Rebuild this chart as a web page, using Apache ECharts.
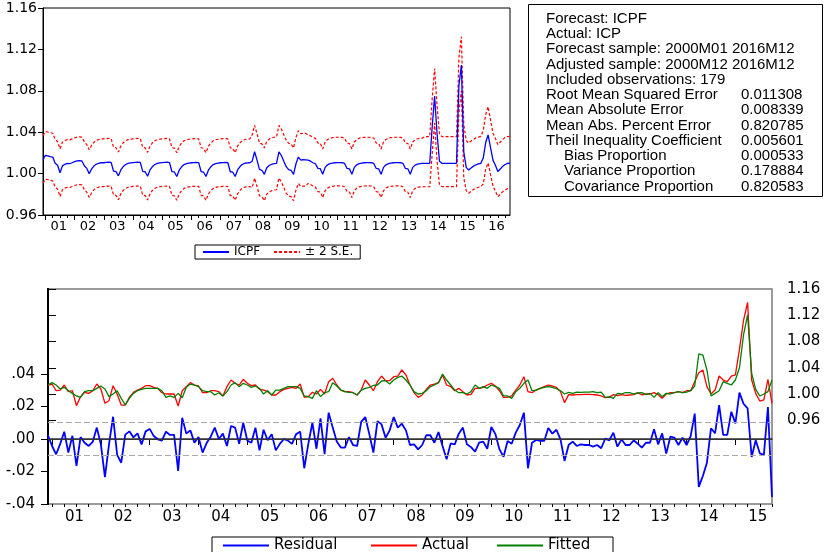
<!DOCTYPE html>
<html><head><meta charset="utf-8">
<script src="https://cdn.jsdelivr.net/npm/echarts@6.0.0/dist/echarts.min.js"></script>
<style>html,body{margin:0;padding:0;background:#fff}#c{width:829px;height:552px}</style>
</head><body><div id="c"></div><script>
// ---------- Top panel: forecast ICPF (2000M12 .. 2016M12) ----------
const icpf = [1.0137,1.0176,1.0172,1.0165,1.0160,1.0100,1.0080,1.0008,1.0075,1.0090,1.0098,1.0096,1.0105,
1.0115,1.0122,1.0124,1.0122,1.0076,1.0050,1.0000,1.0045,1.0075,1.0092,1.0100,1.0105,
1.0105,1.0108,1.0110,1.0108,1.0025,1.0020,0.9978,1.0035,1.0068,1.0088,1.0098,1.0103,
1.0106,1.0108,1.0110,1.0108,1.0022,1.0018,0.9975,1.0035,1.0068,1.0088,1.0098,1.0103,
1.0106,1.0108,1.0110,1.0107,1.0020,1.0016,0.9972,1.0033,1.0066,1.0087,1.0097,1.0102,
1.0105,1.0107,1.0108,1.0106,1.0020,1.0015,0.9972,1.0033,1.0066,1.0087,1.0097,1.0102,
1.0105,1.0107,1.0108,1.0105,1.0018,1.0015,0.9972,1.0035,1.0068,1.0090,1.0100,1.0103,
1.0105,1.0120,1.0211,1.0130,1.0040,1.0032,0.9993,1.0057,1.0078,1.0090,1.0096,1.0099,
1.0211,1.0175,1.0120,1.0067,1.0038,1.0032,0.9993,1.0095,1.0160,1.0130,1.0135,1.0133,
1.0130,1.0120,1.0105,1.0095,1.0051,1.0048,0.9993,1.0060,1.0085,1.0097,1.0102,1.0105,
1.0106,1.0106,1.0105,1.0098,1.0050,1.0046,0.9993,1.0060,1.0085,1.0097,1.0102,1.0105,
1.0106,1.0106,1.0105,1.0098,1.0050,1.0046,0.9993,1.0060,1.0085,1.0097,1.0102,1.0105,
1.0106,1.0106,1.0105,1.0098,1.0050,1.0046,0.9993,1.0060,1.0082,1.0092,1.0096,1.0098,
1.0098,1.0098,1.0098,1.0450,1.0749,1.0390,1.0120,1.0099,1.0099,1.0099,1.0099,1.0099,
1.0099,1.0099,1.0850,1.1049,1.0210,1.0060,1.0035,1.0055,1.0072,1.0085,1.0093,1.0099,
1.0150,1.0300,1.0373,1.0250,1.0130,1.0080,1.0020,1.0045,1.0070,1.0088,1.0098,1.0100];

const icpfUpper = [1.0367,1.0406,1.0402,1.0395,1.0390,1.0330,1.0310,1.0238,1.0305,1.0320,1.0328,1.0326,1.0335,
1.0345,1.0352,1.0354,1.0352,1.0306,1.0280,1.0230,1.0275,1.0305,1.0322,1.0330,1.0335,
1.0335,1.0338,1.0340,1.0338,1.0255,1.0250,1.0208,1.0265,1.0298,1.0318,1.0328,1.0333,
1.0336,1.0338,1.0340,1.0338,1.0252,1.0248,1.0205,1.0265,1.0298,1.0318,1.0328,1.0333,
1.0336,1.0338,1.0340,1.0337,1.0250,1.0246,1.0202,1.0263,1.0296,1.0317,1.0327,1.0332,
1.0335,1.0337,1.0338,1.0336,1.0250,1.0245,1.0202,1.0263,1.0296,1.0317,1.0327,1.0332,
1.0335,1.0337,1.0338,1.0335,1.0248,1.0245,1.0202,1.0265,1.0298,1.0320,1.0330,1.0333,
1.0335,1.0375,1.0466,1.0385,1.0295,1.0287,1.0248,1.0312,1.0333,1.0345,1.0351,1.0354,
1.0466,1.0430,1.0375,1.0322,1.0293,1.0287,1.0248,1.0350,1.0415,1.0385,1.0390,1.0388,
1.0375,1.0365,1.0350,1.0340,1.0296,1.0293,1.0238,1.0305,1.0330,1.0342,1.0347,1.0350,
1.0351,1.0351,1.0350,1.0343,1.0295,1.0291,1.0238,1.0305,1.0330,1.0342,1.0347,1.0350,
1.0351,1.0351,1.0350,1.0343,1.0295,1.0291,1.0238,1.0305,1.0330,1.0342,1.0347,1.0350,
1.0351,1.0351,1.0350,1.0343,1.0295,1.0291,1.0238,1.0305,1.0327,1.0337,1.0341,1.0343,
1.0358,1.0358,1.0358,1.0720,1.1016,1.0660,1.0385,1.0357,1.0357,1.0357,1.0357,1.0357,
1.0357,1.0357,1.1120,1.1323,1.0475,1.0320,1.0295,1.0315,1.0332,1.0345,1.0353,1.0359,
1.0415,1.0570,1.0646,1.0515,1.0390,1.0340,1.0280,1.0305,1.0330,1.0348,1.0358,1.0360];

const icpfLower = [0.9907,0.9946,0.9942,0.9935,0.9930,0.9870,0.9850,0.9778,0.9845,0.9860,0.9868,0.9866,0.9875,
0.9885,0.9892,0.9894,0.9892,0.9846,0.9820,0.9770,0.9815,0.9845,0.9862,0.9870,0.9875,
0.9875,0.9878,0.9880,0.9878,0.9795,0.9790,0.9748,0.9805,0.9838,0.9858,0.9868,0.9873,
0.9876,0.9878,0.9880,0.9878,0.9792,0.9788,0.9745,0.9805,0.9838,0.9858,0.9868,0.9873,
0.9876,0.9878,0.9880,0.9877,0.9790,0.9786,0.9742,0.9803,0.9836,0.9857,0.9867,0.9872,
0.9875,0.9877,0.9878,0.9876,0.9790,0.9785,0.9742,0.9803,0.9836,0.9857,0.9867,0.9872,
0.9875,0.9877,0.9878,0.9875,0.9788,0.9785,0.9742,0.9805,0.9838,0.9860,0.9870,0.9873,
0.9875,0.9865,0.9956,0.9875,0.9785,0.9777,0.9738,0.9802,0.9823,0.9835,0.9841,0.9844,
0.9956,0.9920,0.9865,0.9812,0.9783,0.9777,0.9738,0.9840,0.9905,0.9875,0.9880,0.9878,
0.9905,0.9895,0.9880,0.9870,0.9826,0.9823,0.9768,0.9835,0.9860,0.9872,0.9877,0.9880,
0.9881,0.9881,0.9880,0.9873,0.9825,0.9821,0.9768,0.9835,0.9860,0.9872,0.9877,0.9880,
0.9881,0.9881,0.9880,0.9873,0.9825,0.9821,0.9768,0.9835,0.9860,0.9872,0.9877,0.9880,
0.9881,0.9881,0.9880,0.9873,0.9825,0.9821,0.9768,0.9835,0.9857,0.9867,0.9871,0.9873,
0.9873,0.9873,0.9873,1.0190,1.0489,1.0130,0.9895,0.9874,0.9874,0.9874,0.9874,0.9874,
0.9874,0.9874,1.0590,1.0800,0.9960,0.9835,0.9810,0.9830,0.9847,0.9860,0.9868,0.9874,
0.9900,1.0040,1.0103,0.9990,0.9880,0.9830,0.9777,0.9800,0.9825,0.9840,0.9855,0.9864];

const topYearLabels = ['01','02','03','04','05','06','07','08','09','10','11','12','13','14','15','16'];
const topYTicks = [0.96, 1.00, 1.04, 1.08, 1.12, 1.16];

// ---------- Bottom panel: Actual / Fitted / Residual (2000M12 .. 2015M10) ----------
const residual = [0.0023,-0.0043,-0.0094,-0.0030,0.0045,-0.0084,0.0020,-0.0166,0.0012,-0.0023,-0.0043,-0.0017,
0.0070,-0.0033,-0.0234,-0.0033,0.0137,-0.0098,-0.0146,0.0027,0.0047,0.0010,0.0035,-0.0033,
0.0047,0.0062,0.0018,-0.0002,-0.0010,0.0045,0.0025,0.0025,-0.0197,0.0131,0.0033,0.0053,
-0.0023,0.0012,-0.0084,-0.0025,0.0014,0.0070,0.0000,0.0033,-0.0043,0.0080,0.0070,-0.0029,
0.0100,-0.0010,-0.0023,0.0070,-0.0070,0.0057,-0.0008,0.0030,-0.0070,-0.0030,0.0000,-0.0010,
-0.0030,0.0030,0.0045,-0.0180,-0.0030,0.0100,-0.0060,0.0127,-0.0094,0.0162,0.0070,-0.0016,
-0.0053,-0.0053,0.0012,-0.0037,-0.0043,0.0105,0.0135,0.0030,-0.0084,0.0110,0.0090,0.0008,
0.0053,0.0135,0.0070,0.0094,0.0053,-0.0037,-0.0033,-0.0064,-0.0037,0.0023,0.0023,-0.0023,
0.0043,-0.0043,-0.0125,-0.0027,-0.0033,0.0033,0.0070,-0.0033,-0.0050,-0.0078,-0.0023,-0.0016,
-0.0060,0.0074,0.0030,-0.0064,-0.0109,-0.0012,-0.0029,0.0039,0.0086,0.0162,-0.0180,-0.0023,
-0.0006,-0.0012,-0.0012,0.0068,0.0033,0.0057,-0.0002,-0.0135,-0.0037,-0.0016,-0.0043,-0.0033,
-0.0037,-0.0037,-0.0047,-0.0037,-0.0057,0.0002,-0.0008,0.0039,-0.0047,-0.0002,-0.0037,-0.0037,
-0.0008,-0.0029,-0.0053,-0.0023,-0.0023,0.0060,-0.0033,0.0035,-0.0090,0.0014,0.0008,-0.0037,
0.0008,-0.0037,0.0018,0.0156,-0.0295,-0.0228,-0.0146,0.0066,0.0035,0.0209,0.0025,0.0025,
0.0168,0.0096,0.0285,0.0217,0.0189,-0.0111,-0.0008,-0.0088,-0.0098,0.0197,-0.0357];

const actual = [1.0137,1.0152,1.0050,1.0060,1.0137,1.0036,1.0050,0.9822,0.9960,1.0026,1.0010,1.0050,
1.0152,1.0076,0.9858,0.9898,1.0127,1.0000,0.9832,0.9832,0.9949,1.0026,1.0061,1.0086,
1.0127,1.0127,1.0102,1.0086,1.0020,1.0000,1.0000,1.0000,0.9817,1.0050,1.0112,1.0173,
1.0137,1.0122,1.0020,1.0020,1.0050,1.0050,1.0036,0.9970,1.0112,1.0213,1.0163,1.0137,
1.0224,1.0163,1.0127,1.0137,1.0071,1.0060,1.0036,0.9985,0.9985,1.0036,1.0071,1.0086,
1.0102,1.0086,1.0152,0.9949,0.9960,1.0026,1.0000,1.0071,1.0000,1.0188,1.0240,1.0137,
1.0060,1.0036,1.0036,1.0020,0.9985,1.0060,1.0213,1.0137,1.0050,1.0188,1.0274,1.0203,
1.0203,1.0264,1.0274,1.0366,1.0290,1.0137,1.0020,0.9949,0.9985,1.0071,1.0137,1.0152,
1.0173,1.0290,1.0137,1.0112,1.0050,1.0086,1.0036,0.9985,0.9995,1.0086,1.0086,1.0102,
1.0137,1.0163,1.0122,1.0050,0.9949,0.9949,0.9970,1.0060,1.0137,1.0264,1.0036,1.0020,
1.0060,1.0086,1.0112,1.0137,1.0122,1.0100,1.0036,0.9868,0.9990,0.9985,0.9990,0.9990,
0.9995,0.9995,0.9990,0.9985,0.9970,0.9944,0.9950,0.9990,0.9975,0.9990,0.9980,0.9985,
0.9990,1.0020,0.9985,1.0000,1.0000,1.0020,0.9990,0.9934,1.0000,1.0020,1.0020,1.0036,
1.0020,1.0050,1.0050,1.0188,1.0325,1.0366,1.0112,1.0000,1.0060,1.0274,1.0213,1.0188,
1.0274,1.0290,1.0680,1.1120,1.1397,1.0213,1.0010,0.9893,0.9909,1.0224,0.9858];

const fitted = [1.0137,1.0173,1.0137,1.0076,1.0102,1.0050,1.0010,0.9970,0.9949,1.0036,1.0050,1.0050,
1.0086,1.0122,1.0076,0.9960,1.0000,1.0050,0.9934,0.9832,0.9934,1.0010,1.0050,1.0071,
1.0086,1.0086,1.0086,1.0086,1.0050,0.9949,0.9970,0.9949,1.0010,0.9944,1.0102,1.0152,
1.0137,1.0112,1.0050,1.0036,1.0036,0.9985,1.0020,0.9970,1.0036,1.0137,1.0173,1.0112,
1.0163,1.0137,1.0102,1.0122,1.0086,1.0000,1.0050,0.9985,1.0060,1.0060,1.0086,1.0112,
1.0112,1.0112,1.0086,0.9970,0.9960,0.9934,1.0050,0.9960,1.0020,1.0036,1.0173,1.0122,
1.0060,1.0036,1.0025,1.0020,0.9985,1.0060,1.0086,1.0102,1.0130,1.0137,1.0198,1.0203,
1.0152,1.0213,1.0254,1.0274,1.0213,1.0137,1.0036,1.0000,1.0010,1.0050,1.0112,1.0137,
1.0173,1.0305,1.0213,1.0137,1.0060,1.0020,1.0020,1.0000,1.0036,1.0137,1.0086,1.0112,
1.0086,1.0137,1.0112,1.0086,0.9970,0.9970,0.9934,1.0036,1.0086,1.0163,1.0213,1.0050,
1.0060,1.0086,1.0102,1.0112,1.0102,1.0080,1.0050,1.0000,1.0025,1.0010,1.0030,1.0025,
1.0030,1.0030,1.0035,1.0020,1.0030,0.9950,0.9960,0.9934,1.0010,1.0000,1.0020,1.0020,
1.0000,1.0015,1.0020,0.9990,1.0010,0.9949,1.0020,0.9960,1.0010,1.0000,1.0020,1.0036,
1.0020,1.0030,1.0050,1.0122,1.0610,1.0594,1.0366,0.9970,1.0010,1.0050,1.0188,1.0163,
1.0137,1.0213,1.0400,1.0900,1.1204,1.0315,1.0071,0.9970,1.0000,1.0036,1.0213];

const bottomYearLabels = ['01','02','03','04','05','06','07','08','09','10','11','12','13','14','15'];
const residTicks = [-0.04, -0.02, 0.00, 0.02, 0.04];
const levelTicks = [0.96, 1.00, 1.04, 1.08, 1.12, 1.16];
const residSE = 0.0088;

// ---------- Forecast evaluation table ----------
const statLabels = ['Forecast: ICPF','Actual: ICP','Forecast sample: 2000M01 2016M12','Adjusted sample: 2000M12 2016M12',
  'Included observations: 179','Root Mean Squared Error','Mean Absolute Error','Mean Abs. Percent Error',
  'Theil Inequality Coefficient','Bias Proportion','Variance Proportion','Covariance Proportion'];
const statValues = ['','','','','','0.011308','0.008339','0.820785','0.005601','0.000533','0.178884','0.820583'];

// ---------- build ----------
const AXF = 'DejaVu Sans';
const TXF = 'Liberation Sans, Arial';
const pairs = a => a.map((v, i) => [i, v]);
const yearTicks = n => { const r = []; for (let i = 1; i < n; i += 12) r.push(i); return r; };
const quarterTicks = n => { const r = []; for (let i = 1; i < n; i += 3) r.push(i); return r; };
const yearCenters = labels => labels.map((_, k) => 6.5 + 12 * k);
const yearFmt = labels => v => labels[Math.round((v - 6.5) / 12)] || '';
const resFmt = v => (v < -1e-9 ? '-' : '') + Math.abs(v).toFixed(2).replace(/^0/, '');
const noSymbol = {color: 'rgba(0,0,0,0)', borderColor: 'rgba(0,0,0,0)', borderWidth: 0};

const nTop = icpf.length, nBot = residual.length;

const chart = echarts.init(document.getElementById('c'), null, {renderer: 'canvas', width: 829, height: 552});

const statGraphics = [{
  type: 'rect', shape: {x: 528.5, y: 4.5, width: 294, height: 192},
  style: {fill: '#fff', stroke: '#000', lineWidth: 1}
}];
statLabels.forEach((t, i) => {
  const y = 18.7 + i * 15.25;
  statGraphics.push({type: 'text', x: 546 + (i >= 9 ? 18 : 0), y: y,
    style: {text: t, fontFamily: TXF, fontSize: 15, fill: '#000', verticalAlign: 'middle'}});
  if (statValues[i]) statGraphics.push({type: 'text', x: 741, y: y,
    style: {text: statValues[i], fontFamily: TXF, fontSize: 15, fill: '#000', verticalAlign: 'middle'}});
});

const option = {
  animation: false,
  backgroundColor: '#fff',
  grid: [
    {left: 43, top: 8, width: 467, height: 207, show: true, borderColor: '#000', borderWidth: 1},
    {left: 48, top: 289, width: 724, height: 215, show: true, borderColor: '#7a7a7a', borderWidth: 1.5}
  ],
  xAxis: [
    {type: 'value', gridIndex: 0, position: 'bottom', min: 0, max: nTop - 1,
     axisLine: {lineStyle: {color: '#000', width: 1}}, splitLine: {show: false},
     axisTick: {customValues: yearTicks(nTop), length: 5, lineStyle: {color: '#000'}},
     axisLabel: {customValues: yearCenters(topYearLabels), formatter: yearFmt(topYearLabels), margin: 5,
       fontFamily: AXF, fontSize: 13, color: '#000'}},
    {type: 'value', gridIndex: 0, position: 'bottom', min: 0, max: nTop - 1,
     axisLine: {show: false}, splitLine: {show: false}, axisLabel: {show: false},
     axisTick: {customValues: quarterTicks(nTop), length: 3, lineStyle: {color: '#000'}}},
    {type: 'value', gridIndex: 1, position: 'bottom', min: 0, max: nBot - 1,
     axisLine: {lineStyle: {color: '#333', width: 1.5}}, splitLine: {show: false},
     axisTick: {customValues: yearTicks(nBot), length: 6, lineStyle: {color: '#000'}},
     axisLabel: {customValues: yearCenters(bottomYearLabels), formatter: yearFmt(bottomYearLabels), margin: 6,
       fontFamily: AXF, fontSize: 15, color: '#000'}},
    {type: 'value', gridIndex: 1, position: 'bottom', min: 0, max: nBot - 1,
     axisLine: {show: false}, splitLine: {show: false}, axisLabel: {show: false},
     axisTick: {customValues: quarterTicks(nBot), length: 3, lineStyle: {color: '#000'}}}
  ],
  yAxis: [
    {type: 'value', gridIndex: 0, min: 0.96, max: 1.16, interval: 0.04,
     axisLine: {show: true, lineStyle: {color: '#000', width: 1}}, splitLine: {show: false},
     axisTick: {show: true, customValues: topYTicks, length: 5, lineStyle: {color: '#000'}},
     axisLabel: {customValues: topYTicks, formatter: v => v.toFixed(2), margin: 6, fontFamily: AXF, fontSize: 14, color: '#000'}},
    {type: 'value', gridIndex: 1, position: 'left', min: -0.04, max: 0.0923,
     axisLine: {show: true, lineStyle: {color: '#000', width: 2}}, splitLine: {show: false},
     axisTick: {show: true, customValues: residTicks, length: 7, lineStyle: {color: '#000'}},
     axisLabel: {customValues: residTicks, formatter: resFmt, margin: 13, fontFamily: AXF, fontSize: 15, color: '#000'}},
    {type: 'value', gridIndex: 1, position: 'right', min: 0.8324, max: 1.16,
     axisLine: {show: true, lineStyle: {color: '#000', width: 2}}, splitLine: {show: false},
     axisTick: {show: true, customValues: levelTicks, length: 8, lineStyle: {color: '#000'}},
     axisLabel: {customValues: levelTicks, formatter: v => v.toFixed(2), margin: 15, fontFamily: AXF, fontSize: 15, color: '#000'}}
  ],
  legend: [
    {left: 195, top: 245, data: ['ICPF', '± 2 S.E.'], selectedMode: false,
     itemWidth: 26, itemHeight: 10, itemGap: 13, padding: [1, 7, 1, 7],
     borderColor: '#000', borderWidth: 1, itemStyle: noSymbol,
     textStyle: {fontFamily: AXF, fontSize: 12, color: '#000', lineHeight: 11}},
    {left: 212, top: 537, data: ['Residual', 'Actual', 'Fitted'], selectedMode: false,
     itemWidth: 46, itemHeight: 10, itemGap: 14, padding: [1, 10, 1, 10],
     borderColor: '#000', borderWidth: 1, itemStyle: noSymbol,
     formatter: n => '{' + ({Residual: 'r', Actual: 'a', Fitted: 'f'})[n] + '|' + n + '}',
     textStyle: {fontFamily: AXF, fontSize: 15, color: '#000', lineHeight: 14,
       rich: {r: {width: 82, fontSize: 15, fontFamily: AXF}, a: {width: 60, fontSize: 15, fontFamily: AXF}, f: {width: 55, fontSize: 15, fontFamily: AXF}}}}
  ],
  series: [
    {name: 'ICPF', type: 'line', xAxisIndex: 0, yAxisIndex: 0, data: pairs(icpf), symbol: 'none',
     lineStyle: {color: '#0000ff', width: 1.3}, itemStyle: {color: '#0000ff'}, z: 3},
    {name: '± 2 S.E.', type: 'line', xAxisIndex: 0, yAxisIndex: 0, data: pairs(icpfUpper), symbol: 'none',
     lineStyle: {color: '#ff0000', width: 1.2, type: [3, 2]}, itemStyle: {color: '#ff0000'}, z: 2},
    {name: '± 2 S.E.', type: 'line', xAxisIndex: 0, yAxisIndex: 0, data: pairs(icpfLower), symbol: 'none',
     lineStyle: {color: '#ff0000', width: 1.2, type: [3, 2]}, itemStyle: {color: '#ff0000'}, z: 2},
    {name: 'Residual', type: 'line', xAxisIndex: 2, yAxisIndex: 1, data: pairs(residual), symbol: 'none',
     lineStyle: {color: '#0000ff', width: 1.8}, itemStyle: {color: '#0000ff'}, z: 3,
     markLine: {silent: true, symbol: 'none', label: {show: false}, animation: false,
       data: [
         {yAxis: 0, lineStyle: {color: '#333', type: 'solid', width: 1}},
         {yAxis: residSE, lineStyle: {color: '#aaa', type: [6, 3], width: 1}},
         {yAxis: -residSE, lineStyle: {color: '#aaa', type: [6, 3], width: 1}}
       ]}},
    {name: 'Actual', type: 'line', xAxisIndex: 2, yAxisIndex: 2, data: pairs(actual), symbol: 'none',
     lineStyle: {color: '#ff0000', width: 1.3}, itemStyle: {color: '#ff0000'}, z: 3},
    {name: 'Fitted', type: 'line', xAxisIndex: 2, yAxisIndex: 2, data: pairs(fitted), symbol: 'none',
     lineStyle: {color: '#008000', width: 1.3}, itemStyle: {color: '#008000'}, z: 4}
  ],
  graphic: statGraphics
};
chart.setOption(option);
</script></body></html>
